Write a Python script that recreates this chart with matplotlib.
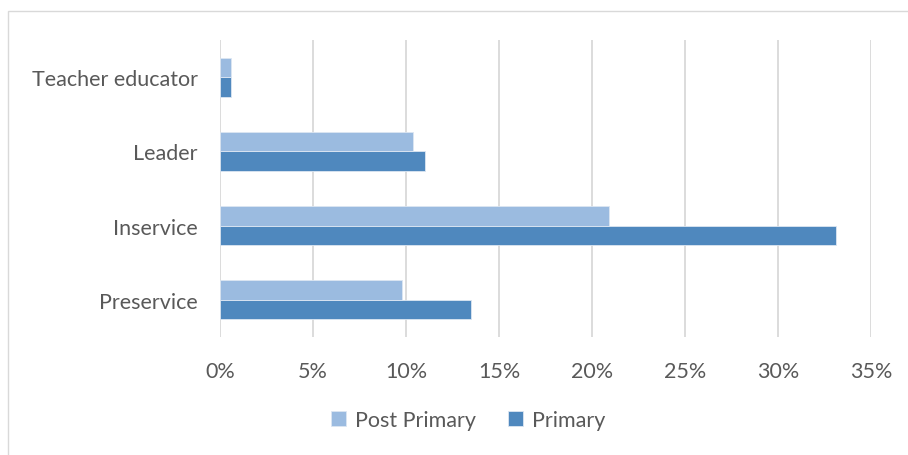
import matplotlib.pyplot as plt
import numpy as np
from matplotlib.patches import Rectangle
from matplotlib.ticker import FuncFormatter

# survey shares by role (percent)
categories = ['Preservice', 'Inservice', 'Leader', 'Teacher educator']
post_primary = [9.8, 20.9, 10.4, 0.6]
primary = [13.5, 33.1, 11.0, 0.6]
ticks = [0, 5, 10, 15, 20, 25, 30, 35]

c_post = '#9BBBE0'
c_prim = '#4F88BE'
text_c = '#595959'

plt.rcParams['font.family'] = ['Lato', 'DejaVu Sans']

W, H = 908, 456
fig = plt.figure(figsize=(W / 100, H / 100), dpi=100)
fig.patch.set_facecolor('white')

# chart frame
fig.patches.append(Rectangle((8 / W, -0.1), 1.2, 1.1 - 12 / H, transform=fig.transFigure,
                             fill=False, edgecolor='#D9D9D9', linewidth=1.0))

ax = fig.add_axes([220 / W, 1 - 338 / H, (871 - 220) / W, (338 - 41) / H])

y = np.arange(len(categories))
h = 0.2625
ax.barh(y - h / 2, primary, height=h, color=c_prim, edgecolor='#DCE6F2', linewidth=0.6, label='Primary', zorder=3)
ax.barh(y + h / 2, post_primary, height=h, color=c_post, edgecolor='#DCE6F2', linewidth=0.6, label='Post Primary', zorder=3)

ax.set_xlim(0, 35)
ax.set_ylim(-0.5, len(categories) - 0.5)
ax.set_xticks(ticks)
ax.xaxis.set_major_formatter(FuncFormatter(lambda v, p: f'{v:.0f}%'))
ax.set_yticks(y)
ax.set_yticklabels(categories)
ax.grid(axis='x', color='#D9D9D9', linewidth=1.3, zorder=0)
for s in ax.spines.values():
    s.set_visible(False)
ax.tick_params(length=0, labelsize=15.5, labelcolor=text_c)
ax.tick_params(axis='x', pad=17)
ax.tick_params(axis='y', pad=16)

handles, labels = ax.get_legend_handles_labels()
leg = fig.legend(handles[::-1], labels[::-1], loc='center', bbox_to_anchor=(468 / W, 1 - 421 / H),
                 ncol=2, frameon=False, fontsize=15.5, handlelength=0.7, handleheight=0.7,
                 handletextpad=0.4, columnspacing=1.5)
for t in leg.get_texts():
    t.set_color(text_c)

fig.savefig('out.png', dpi=100, facecolor='white')
